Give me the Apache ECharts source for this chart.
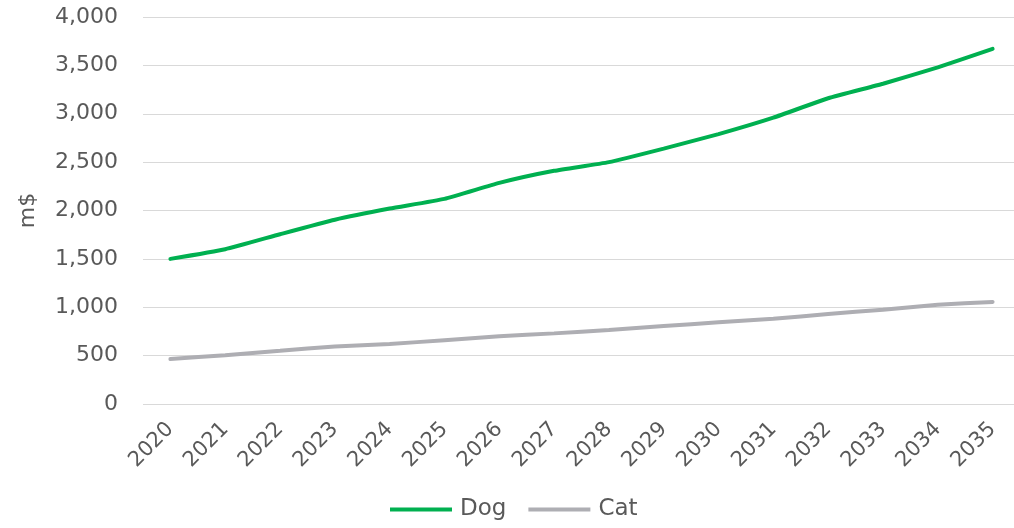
<!DOCTYPE html>
<html>
<head>
<meta charset="utf-8">
<script src="https://cdn.jsdelivr.net/npm/echarts@6/dist/echarts.min.js"></script>
<style>
  html, body { margin: 0; padding: 0; background: #fff; }
  #chart { width: 1014px; height: 528px; }
</style>
</head>
<body>
<div id="chart"></div>
<script>
// Market size by pet type, m$
const years = ['2020','2021','2022','2023','2024','2025','2026','2027','2028','2029','2030','2031','2032','2033','2034','2035'];
const dog = [1500, 1600, 1755, 1905, 2020, 2120, 2285, 2410, 2500, 2640, 2790, 2960, 3160, 3310, 3480, 3670];
const cat = [465, 505, 550, 595, 620, 660, 700, 730, 765, 805, 845, 880, 930, 975, 1025, 1055];
const yTicks = [0, 500, 1000, 1500, 2000, 2500, 3000, 3500, 4000];

const textColor = '#595959';
const font = 'DejaVu Sans';

const chart = echarts.init(document.getElementById('chart'), null, { renderer: 'canvas' });
chart.setOption({
  animation: false,
  backgroundColor: '#ffffff',
  grid: { left: 143, top: 17, right: -6, bottom: 124, containLabel: false, outerBoundsMode: 'none' },
  legend: {
    bottom: 2,
    left: 385,
    itemWidth: 62,
    itemHeight: 4,
    itemGap: 22,
    icon: 'rect',
    textStyle: { color: textColor, fontSize: 23, fontFamily: font, padding: [0, 0, 0, 3] },
    data: ['Dog', 'Cat']
  },
  xAxis: {
    type: 'category',
    data: years,
    boundaryGap: true,
    axisLine: { show: false },
    axisTick: { show: false },
    axisLabel: {
      rotate: 45,
      margin: 22,
      interval: 0,
      color: textColor,
      fontSize: 21,
      fontFamily: font
    }
  },
  yAxis: {
    type: 'value',
    min: yTicks[0],
    max: yTicks[yTicks.length - 1],
    interval: yTicks[1] - yTicks[0],
    name: 'm$',
    nameLocation: 'middle',
    nameGap: 104,
    nameTextStyle: { color: textColor, fontSize: 22, fontFamily: font },
    axisLine: { show: false },
    axisTick: { show: false },
    splitLine: { lineStyle: { color: '#d9d9d9', width: 1 } },
    axisLabel: {
      margin: 25,
      color: textColor,
      fontSize: 22,
      fontFamily: font,
      formatter: v => v.toLocaleString('en-US')
    }
  },
  series: [
    {
      name: 'Dog',
      type: 'line',
      data: dog,
      smooth: 0.15,
      showSymbol: false,
      lineStyle: { color: '#00b050', width: 4, cap: 'round' },
      itemStyle: { color: '#00b050' }
    },
    {
      name: 'Cat',
      type: 'line',
      data: cat,
      smooth: 0.15,
      showSymbol: false,
      lineStyle: { color: '#aeaeb3', width: 4, cap: 'round' },
      itemStyle: { color: '#aeaeb3' }
    }
  ]
});
</script>
</body>
</html>
